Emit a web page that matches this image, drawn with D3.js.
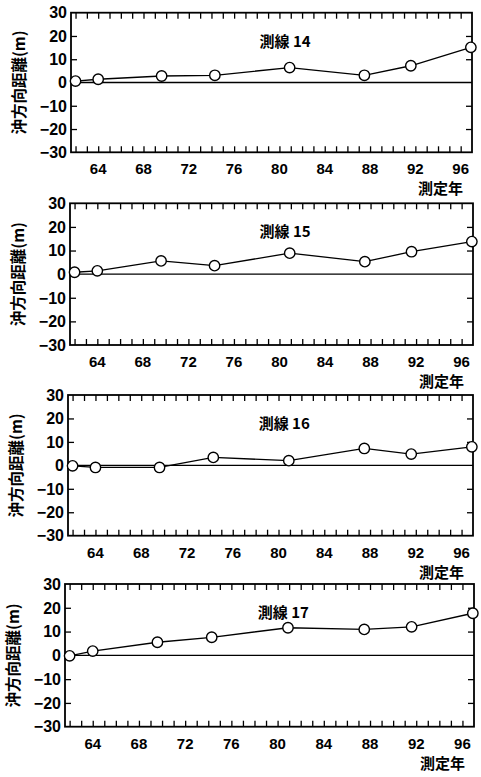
<!DOCTYPE html>
<html><head><meta charset="utf-8">
<script src="https://cdn.jsdelivr.net/npm/d3@7"></script>
<style>body{margin:0;background:#fff}svg{display:block}</style>
</head><body>
<svg id="c" width="481" height="777"></svg>
<script>
const years = [62, 64, 69.6, 74.3, 80.9, 87.5, 91.6, 96.9];
const line14 = [0.6, 1.4, 2.8, 3.1, 6.4, 3.1, 7.2, 15.1];
const line15 = [0.8, 1.4, 5.6, 3.6, 8.9, 5.3, 9.5, 13.8];
const line16 = [-0.2, -0.9, -0.9, 3.4, 2.0, 7.2, 4.8, 7.9];
const line17 = [-0.2, 1.8, 5.5, 7.6, 11.6, 10.9, 12.0, 17.7];
const titles = ["測線 14", "測線 15", "測線 16", "測線 17"];
const yTicks = [30, 20, 10, 0, -10, -20, -30];
const xTickLabels = [64, 68, 72, 76, 80, 84, 88, 92, 96];
const yearTicks = d3.range(62, 97);
const yLabel = "沖方向距離(m)";
const xLabel = "測定年";

const series = [line14, line15, line16, line17];
const layout = [
  {l: 71, r: 472, t: 12.7, b: 152.3},
  {l: 70, r: 473, t: 203.3, b: 345},
  {l: 68, r: 473, t: 395, b: 535.7},
  {l: 65, r: 474, t: 584, b: 726.7}
];
const numFont = "'Liberation Sans', Arial, sans-serif";
const cjkFont = "'Noto Sans CJK JP', 'Noto Sans CJK SC', sans-serif";

const svg = d3.select("#c");

series.forEach((vals, i) => {
  const L = layout[i];
  const x = d3.scaleLinear().domain([61.6, 97]).range([L.l, L.r]);
  const y = d3.scaleLinear().domain([-30, 30]).range([L.b, L.t]);
  const g = svg.append("g");

  // zero line
  g.append("line").attr("x1", L.l).attr("x2", L.r).attr("y1", y(0)).attr("y2", y(0))
    .attr("stroke", "#000").attr("stroke-width", 1.3);

  // x ticks (top, bottom inward)
  g.append("g").attr("transform", `translate(0,${L.b})`)
    .call(d3.axisBottom(x).tickValues(yearTicks).tickSize(-6).tickFormat(""))
    .call(a => a.select(".domain").remove())
    .selectAll("line").attr("stroke-width", 1.3);
  g.append("g").attr("transform", `translate(0,${L.t})`)
    .call(d3.axisTop(x).tickValues(yearTicks).tickSize(-6).tickFormat(""))
    .call(a => a.select(".domain").remove())
    .selectAll("line").attr("stroke-width", 1.3);

  // y ticks left/right inward
  const yt = yTicks.filter(v => Math.abs(v) !== 30 && v !== 0);
  g.append("g").attr("transform", `translate(${L.l},0)`)
    .call(d3.axisLeft(y).tickValues(yt).tickSize(-6).tickFormat(""))
    .call(a => a.select(".domain").remove())
    .selectAll("line").attr("stroke-width", 1.3);
  g.append("g").attr("transform", `translate(${L.r},0)`)
    .call(d3.axisRight(y).tickValues(yt).tickSize(-6).tickFormat(""))
    .call(a => a.select(".domain").remove())
    .selectAll("line").attr("stroke-width", 1.3);

  // frame
  g.append("rect").attr("x", L.l).attr("y", L.t).attr("width", L.r - L.l).attr("height", L.b - L.t)
    .attr("fill", "none").attr("stroke", "#000").attr("stroke-width", 1.8);

  // y tick labels
  g.selectAll(".yl").data(yTicks).enter().append("text")
    .attr("x", L.l - 4).attr("y", d => y(d)).attr("dy", "0.36em")
    .attr("text-anchor", "end").attr("font-family", numFont).attr("font-weight", "bold")
    .attr("font-size", 16).text(d => d < 0 ? "\u2212" + Math.abs(d) : d);

  // x tick labels
  g.selectAll(".xl").data(xTickLabels).enter().append("text")
    .attr("x", d => x(d)).attr("y", L.b + 22)
    .attr("text-anchor", "middle").attr("font-family", numFont).attr("font-weight", "bold")
    .attr("font-size", 15).text(d => d);

  // x title
  g.append("text").attr("x", L.r - 9).attr("y", L.b + 42).attr("text-anchor", "end")
    .attr("font-family", cjkFont).attr("font-weight", "bold").attr("font-size", 15).text(xLabel);

  // y title
  g.append("text").attr("transform", `translate(${L.l - 46},${(L.t + L.b) / 2}) rotate(-90)`)
    .attr("text-anchor", "middle").attr("font-family", cjkFont).attr("font-weight", "bold")
    .attr("font-size", 15.5).text(yLabel);

  // panel title
  g.append("text").attr("x", x(80.5)).attr("y", L.t + 34).attr("text-anchor", "middle")
    .attr("font-family", cjkFont).attr("font-weight", "bold").attr("font-size", 15).text(titles[i]);

  // series line
  const pts = years.map((yr, k) => [yr, vals[k]]);
  g.append("path").datum(pts)
    .attr("d", d3.line().x(d => x(d[0])).y(d => y(d[1])))
    .attr("fill", "none").attr("stroke", "#000").attr("stroke-width", 1.3);
  g.selectAll(".pt").data(pts).enter().append("circle")
    .attr("cx", d => x(d[0])).attr("cy", d => y(d[1])).attr("r", 5.2)
    .attr("fill", "#fff").attr("stroke", "#000").attr("stroke-width", 1.4);
});
</script>
</body></html>
